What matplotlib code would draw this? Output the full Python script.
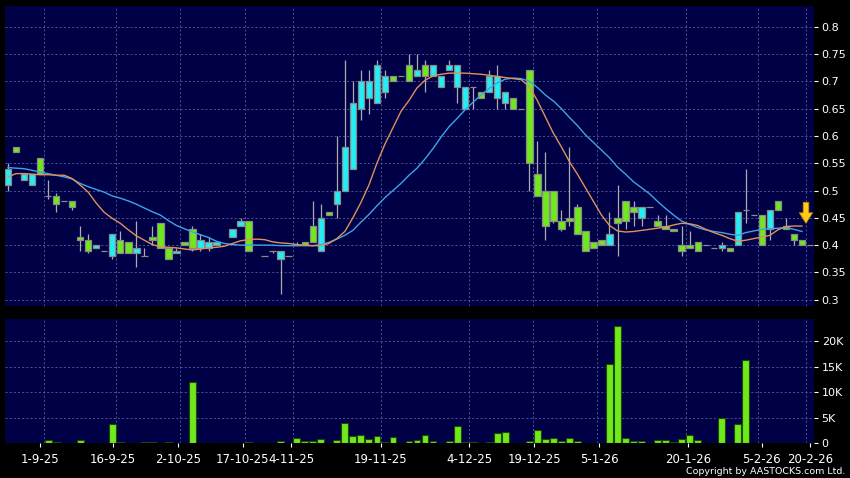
import numpy as np
import matplotlib
matplotlib.use('Agg')
import matplotlib.pyplot as plt

# one slot per session on the chart (27 and 31 are empty)
slot = [0, 1, 2, 3, 4, 5, 6, 7, 8, 9,
        10, 11, 12, 13, 14, 15, 16, 17, 18, 19,
        20, 21, 22, 23, 24, 25, 26, 28, 29,
        30, 32, 33, 34, 35, 36, 37, 38, 39,
        40, 41, 42, 43, 44, 45, 46, 47, 48, 49,
        50, 51, 52, 53, 54, 55, 56, 57, 58, 59,
        60, 61, 62, 63, 64, 65, 66, 67, 68, 69,
        70, 71, 72, 73, 74, 75, 76, 77, 78, 79,
        80, 81, 82, 83, 84, 85, 86, 87, 88, 89,
        90, 91, 92, 93, 94, 95, 96, 97, 98, 99, 100]

opens = [0.51, 0.58, 0.52, 0.51, 0.56, 0.49, 0.49, 0.48, 0.48, 0.415,
         0.41, 0.395, 0.39, 0.38, 0.41, 0.405, 0.385, 0.38, 0.415, 0.44,
         0.395, 0.385, 0.405, 0.43, 0.395, 0.395, 0.40, 0.415, 0.435,
         0.445, 0.38, 0.39, 0.375, 0.38, 0.40, 0.405, 0.435, 0.39,
         0.46, 0.475, 0.50, 0.54, 0.65, 0.67, 0.66, 0.68, 0.71, 0.71,
         0.73, 0.71, 0.73, 0.71, 0.69, 0.72, 0.69, 0.65, 0.69, 0.68,
         0.68, 0.67, 0.66, 0.67, 0.65, 0.72, 0.53, 0.50, 0.50, 0.445,
         0.45, 0.47, 0.425, 0.405, 0.41, 0.40, 0.45, 0.48, 0.47, 0.45,
         0.47, 0.445, 0.435, 0.43, 0.40, 0.40, 0.405, 0.40, 0.395, 0.395,
         0.395, 0.40, 0.465, 0.455, 0.455, 0.43, 0.48, 0.435, 0.42, 0.41, 0.40]

highs = [0.55, 0.58, 0.53, 0.53, 0.56, 0.52, 0.495, 0.48, 0.48, 0.435,
         0.42, 0.40, 0.39, 0.42, 0.425, 0.405, 0.445, 0.395, 0.435, 0.44,
         0.395, 0.395, 0.405, 0.435, 0.42, 0.415, 0.405, 0.43, 0.45,
         0.445, 0.38, 0.39, 0.39, 0.38, 0.405, 0.405, 0.48, 0.475,
         0.46, 0.60, 0.74, 0.70, 0.72, 0.72, 0.74, 0.72, 0.71, 0.71,
         0.75, 0.75, 0.74, 0.73, 0.71, 0.74, 0.73, 0.69, 0.69, 0.68,
         0.72, 0.73, 0.68, 0.67, 0.65, 0.72, 0.59, 0.57, 0.50, 0.465,
         0.58, 0.475, 0.425, 0.405, 0.41, 0.46, 0.51, 0.48, 0.48, 0.47,
         0.47, 0.455, 0.455, 0.43, 0.435, 0.425, 0.405, 0.40, 0.395, 0.405,
         0.395, 0.46, 0.54, 0.455, 0.455, 0.465, 0.48, 0.45, 0.42, 0.41, 0.40]

lows = [0.50, 0.57, 0.52, 0.51, 0.53, 0.485, 0.46, 0.48, 0.465, 0.39,
        0.385, 0.395, 0.39, 0.375, 0.385, 0.385, 0.36, 0.38, 0.40, 0.395,
        0.375, 0.385, 0.40, 0.39, 0.39, 0.39, 0.40, 0.415, 0.435,
        0.39, 0.38, 0.385, 0.31, 0.38, 0.40, 0.40, 0.405, 0.39,
        0.455, 0.45, 0.50, 0.54, 0.63, 0.64, 0.66, 0.67, 0.70, 0.71,
        0.70, 0.71, 0.68, 0.71, 0.69, 0.72, 0.66, 0.65, 0.65, 0.67,
        0.68, 0.65, 0.65, 0.65, 0.65, 0.50, 0.49, 0.41, 0.44, 0.425,
        0.435, 0.42, 0.39, 0.395, 0.40, 0.40, 0.38, 0.43, 0.435, 0.435,
        0.47, 0.435, 0.43, 0.425, 0.38, 0.395, 0.39, 0.40, 0.395, 0.39,
        0.39, 0.40, 0.44, 0.455, 0.40, 0.41, 0.465, 0.43, 0.40, 0.40, 0.40]

closes = [0.54, 0.57, 0.53, 0.53, 0.53, 0.49, 0.475, 0.48, 0.47, 0.41,
          0.39, 0.40, 0.39, 0.42, 0.385, 0.385, 0.395, 0.38, 0.41, 0.395,
          0.375, 0.39, 0.40, 0.395, 0.41, 0.405, 0.405, 0.43, 0.445,
          0.39, 0.38, 0.39, 0.39, 0.38, 0.40, 0.40, 0.405, 0.45,
          0.455, 0.50, 0.58, 0.66, 0.70, 0.70, 0.73, 0.71, 0.70, 0.71,
          0.70, 0.72, 0.71, 0.73, 0.71, 0.73, 0.73, 0.69, 0.69, 0.67,
          0.71, 0.71, 0.68, 0.65, 0.65, 0.55, 0.49, 0.435, 0.445, 0.43,
          0.445, 0.42, 0.39, 0.395, 0.40, 0.42, 0.44, 0.445, 0.46, 0.47,
          0.47, 0.435, 0.43, 0.425, 0.39, 0.395, 0.39, 0.40, 0.395, 0.40,
          0.39, 0.46, 0.465, 0.455, 0.40, 0.465, 0.465, 0.43, 0.41, 0.40, 0.40]

# volume in thousands of shares
vol_k = [0.05, 0.05, 0.05, 0.1, 0.05, 0.58, 0.2, 0, 0.05, 0.7,
         0.13, 0.05, 0, 3.83, 0.2, 0.05, 0.05, 0.2, 0.2, 0.05,
         0.26, 0.05, 0.05, 12.0, 0.05, 0.05, 0.05, 0.05, 0.05,
         0.2, 0, 0.05, 0.45, 0, 0.97, 0.45, 0.4, 0.9,
         0.05, 0.65, 3.96, 1.43, 1.62, 0.78, 1.49, 0.32, 1.23, 0,
         0.52, 0.71, 1.7, 0.39, 0.05, 0.39, 3.44, 0.2, 0.2, 0.05,
         0.2, 2.0, 2.14, 0.05, 0, 0.39, 2.66, 0.78, 0.97, 0.52,
         0.97, 0.52, 0.05, 0.05, 0.05, 15.5, 22.97, 0.97, 0.39, 0.52,
         0, 0.58, 0.58, 0.32, 0.84, 1.62, 0.58, 0, 0.05, 4.93,
         0.05, 3.76, 16.35, 0, 0.1, 0.15, 0.05, 0.05, 0.15, 0.05, 0]

# moving averages, one value per slot 0..99
ma_slot = list(range(100))
ma_short = [0.525, 0.531, 0.531, 0.530, 0.529, 0.529, 0.528, 0.528, 0.522, 0.510,
            0.497, 0.477, 0.460, 0.449, 0.440, 0.428, 0.417, 0.409, 0.401, 0.397,
            0.396, 0.395, 0.393, 0.391, 0.393, 0.395, 0.396, 0.398, 0.403, 0.408,
            0.410, 0.411, 0.410, 0.406, 0.404, 0.403, 0.401, 0.400, 0.399, 0.399,
            0.403, 0.412, 0.425, 0.450, 0.478, 0.510, 0.550, 0.585, 0.615, 0.645,
            0.665, 0.688, 0.702, 0.710, 0.713, 0.715, 0.715, 0.715, 0.714, 0.713,
            0.711, 0.709, 0.707, 0.705, 0.703, 0.690, 0.665, 0.635, 0.605, 0.580,
            0.553, 0.530, 0.505, 0.480, 0.455, 0.436, 0.426, 0.424, 0.425, 0.427,
            0.429, 0.431, 0.433, 0.437, 0.440, 0.439, 0.436, 0.429, 0.423, 0.418,
            0.412, 0.407, 0.409, 0.412, 0.415, 0.418, 0.428, 0.434, 0.435, 0.435]
ma_long = [0.542, 0.541, 0.540, 0.537, 0.534, 0.531, 0.528, 0.525, 0.521, 0.513,
           0.507, 0.502, 0.497, 0.490, 0.486, 0.481, 0.475, 0.468, 0.461, 0.455,
           0.445, 0.436, 0.430, 0.424, 0.419, 0.414, 0.407, 0.403, 0.401, 0.400,
           0.400, 0.400, 0.400, 0.400, 0.399, 0.399, 0.399, 0.399, 0.399, 0.401,
           0.405, 0.411, 0.418, 0.427, 0.442, 0.456, 0.472, 0.487, 0.500, 0.513,
           0.528, 0.541, 0.558, 0.577, 0.598, 0.617, 0.632, 0.648, 0.662, 0.675,
           0.687, 0.697, 0.704, 0.706, 0.705, 0.700, 0.689, 0.675, 0.664, 0.650,
           0.634, 0.619, 0.602, 0.588, 0.574, 0.560, 0.543, 0.530, 0.516, 0.505,
           0.494, 0.480, 0.467, 0.455, 0.444, 0.438, 0.432, 0.428, 0.425, 0.423,
           0.420, 0.418, 0.423, 0.426, 0.429, 0.430, 0.431, 0.432, 0.429, 0.425]

date_labels = ['1-9-25', '16-9-25', '2-10-25', '17-10-25', '4-11-25', '19-11-25',
               '4-12-25', '19-12-25', '5-1-26', '20-1-26', '5-2-26', '20-2-26']
date_slots = [4, 13.1, 21.25, 29.25, 35.3, 46.5, 57.5, 65.6, 73.7, 84.8, 94, 100]
grid_slots = [4.5, 13.5, 21.5, 29.5, 35.5, 46.5, 57.5, 65.5, 73.5, 84.5, 93.5, 99.5]

price_ticks = [0.3, 0.35, 0.4, 0.45, 0.5, 0.55, 0.6, 0.65, 0.7, 0.75, 0.8]
price_labels = ['0.3', '0.35', '0.4', '0.45', '0.5', '0.55', '0.6', '0.65', '0.7', '0.75', '0.8']
vol_ticks = [0, 5, 10, 15, 20]
vol_labels = ['0', '5K', '10K', '15K', '20K']

BG = '#000046'
GRID = '#5c5c9c'
CYAN = '#22eef5'
LIME = '#6fe81c'
FLAT = '#a8a8a8'
WICK = '#acacac'

x = np.array(slot, dtype=float)
o = np.array(opens)
h = np.array(highs)
l = np.array(lows)
c = np.array(closes)
v = np.array(vol_k)

fig = plt.figure(figsize=(8.5, 4.78), dpi=100, facecolor='black')
ax = fig.add_axes([5/850, 1 - 306/478, 809/850, 300/478])
axv = fig.add_axes([5/850, 1 - 443.3/478, 809/850, 124.3/478])

for a in (ax, axv):
    a.set_facecolor(BG)
    for s in a.spines.values():
        s.set_visible(False)
    a.set_xlim(-0.375, 100.5)
    a.yaxis.tick_right()
    a.tick_params(axis='y', colors='white', labelsize=8, length=3, width=0.8, pad=2.5)
    a.grid(True, axis='y', color=GRID, linestyle=(0, (2.5, 2.5)), linewidth=0.6)
    for g in grid_slots:
        a.axvline(g, color=GRID, linestyle=(0, (2.5, 2.5)), linewidth=0.6, zorder=0.5)
    a.set_axisbelow(True)

# price panel
ax.set_ylim(0.2885, 0.838)
ax.set_yticks(price_ticks)
ax.set_yticklabels(price_labels)
ax.set_xticks([])

up = c > o
down = c < o
body_col = np.where(up, CYAN, np.where(down, LIME, FLAT))
ax.vlines(x, l, h, color=WICK, linewidth=0.9, zorder=2)
ax.bar(x, np.abs(c - o), bottom=np.minimum(o, c), width=0.8, color=body_col,
       edgecolor='#8a8a8a', linewidth=0.9, zorder=3)

ax.plot(ma_slot, ma_long, color='#3ea4e6', linewidth=1.0, zorder=4)
ax.plot(ma_slot, ma_short, color='#e0905c', linewidth=1.0, zorder=5)

# marker arrow over the latest moving average value
ax.annotate('', xy=(ma_slot[-1] + 0.5, ma_short[-1]), xytext=(0, 19), textcoords='offset points',
            arrowprops=dict(arrowstyle='simple,head_length=0.75,head_width=0.95,tail_width=0.4',
                            facecolor='#ffcc1a', edgecolor='#d08a00', linewidth=0.6),
            zorder=6)

# volume panel
vx = x[v > 0]
vv = v[v > 0]
axv.bar(vx, vv, width=0.85, color=LIME, edgecolor='#1d4a05', linewidth=0.8, zorder=3)
axv.set_ylim(0, 24.3)
axv.set_yticks(vol_ticks)
axv.set_yticklabels(vol_labels)
axv.set_xticks(date_slots)
axv.set_xticklabels(date_labels)
axv.tick_params(axis='x', colors='white', labelsize=8.5, length=3, width=0.8, pad=4, direction='out')

fig.text(0.994, 1 - 472/478, 'Copyright by AASTOCKS.com Ltd.', color='white',
         fontsize=6.8, ha='right', va='center')

fig.savefig('out.png', dpi=100, facecolor='black')
